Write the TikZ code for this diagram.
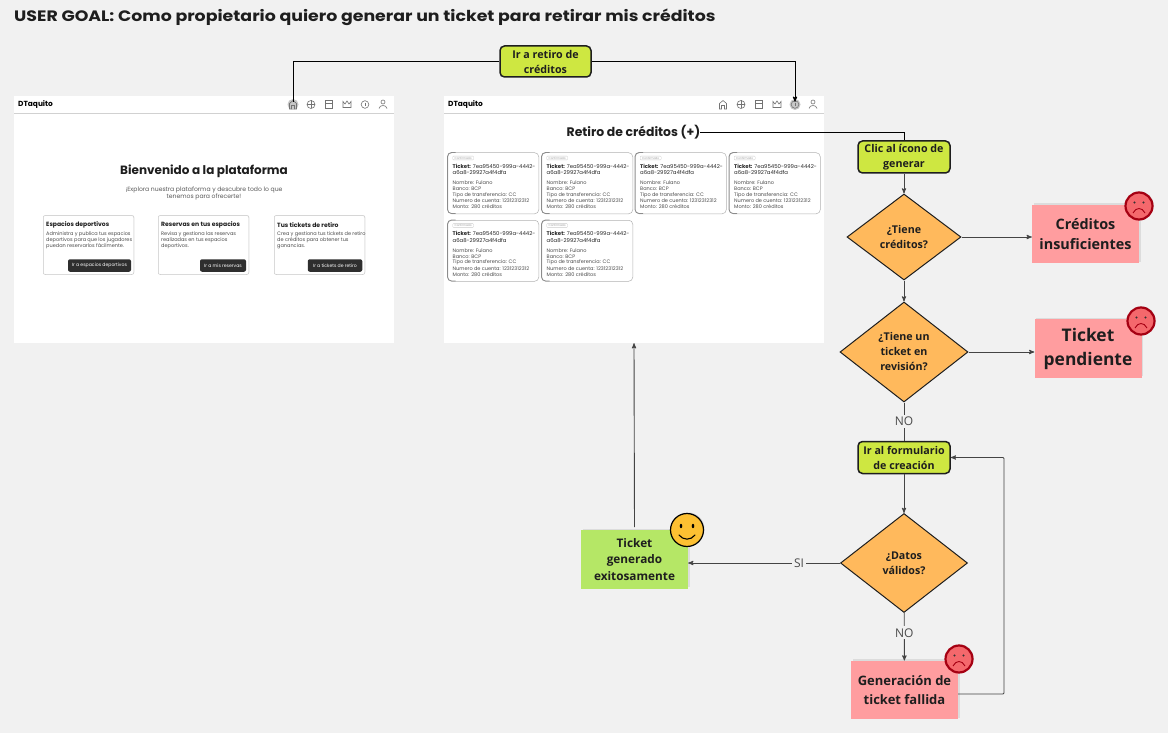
\documentclass[tikz,border=0pt]{standalone}
\usepackage{fontspec}
\usepackage{xcolor}
\usetikzlibrary{arrows}
\usetikzlibrary{shapes.geometric}
\usetikzlibrary{shadows}
\setmainfont{Open Sans}
\newfontfamily\popfont{Poppins}
\newfontfamily\titlefont[FakeStretch=1.15]{Poppins}
\definecolor{canvas}{HTML}{F1F1F1}
\definecolor{lime}{HTML}{CEE741}
\definecolor{orange}{HTML}{FFB95C}
\definecolor{rosa}{HTML}{FF9D9F}
\definecolor{verde}{HTML}{B5E766}
\definecolor{ink}{HTML}{1E1E1E}
\definecolor{wire}{HTML}{444444}
\definecolor{sadring}{HTML}{A50012}
\definecolor{sadfill}{HTML}{F4686C}
\definecolor{smile}{HTML}{FDC032}
\tikzset{
 actionbox/.style={draw=ink, line width=1.5pt, fill=lime, rounded corners=4.5, minimum width=92, minimum height=32, inner sep=0, align=center, text=ink, font=\bfseries\fontsize{10.7}{15}\selectfont},
 decision/.style={diamond, draw=ink, line width=1pt, fill=orange, inner sep=0, align=center, text=ink, font=\bfseries\fontsize{10.7}{15}\selectfont},
 sticky/.style={fill=#1, minimum width=107, minimum height=58.5, inner sep=0, align=center, text=ink, drop shadow={opacity=.18, shadow xshift=1.5, shadow yshift=-1.5}},
 screen/.style={fill=white, minimum width=380, minimum height=247, inner sep=0},
 navdot/.style={circle, fill=black!22, minimum size=11, inner sep=0},
 wired/.style={wire, line width=.9pt},
 tag/.style={fill=canvas, text=ink!80, inner sep=2, font=\fontsize{12}{14}\selectfont},
 sadface/.style={circle, draw=sadring, line width=2.2pt, fill=sadfill, minimum size=27, inner sep=0, drop shadow={opacity=.35, shadow xshift=1, shadow yshift=-1}},
 ticketcard/.style={draw=black!30, line width=.5pt, fill=white, rounded corners=4, minimum width=91, minimum height=61, inner sep=0},
 homecard/.style={draw=black!22, line width=.5pt, fill=white, rounded corners=2, minimum width=90.5, minimum height=59, inner sep=0, drop shadow={opacity=.12, shadow xshift=.5, shadow yshift=-.5}},
 darkbtn/.style={fill=black!82, rounded corners=2, text=white, inner sep=0, minimum height=12.5, font=\popfont\fontsize{4.6}{5}\selectfont},
 tiny/.style={anchor=west, inner sep=0, text=black!70, font=\popfont\fontsize{5}{6}\selectfont}
}
\begin{document}
\begin{tikzpicture}[x=1pt, y=-1pt]
\fill[canvas] (0,0) rectangle (1168,733);
\useasboundingbox (0,0) rectangle (1168,733);
\node[anchor=west, inner sep=0, text=ink, font=\titlefont\bfseries\fontsize{15.1}{16}\selectfont] (goal) at (14,17.5) {USER GOAL: Como propietario quiero generar un ticket para retirar mis créditos};

% pantallas
\node[screen] (inicio) at (204,219.5) {};
\node[screen] (retiro) at (634,219.5) {};
\foreach \x in {14, 444} {
 \draw[black!18, line width=1.2pt] (\x,113.5) --++(380,0);
 \node[anchor=west, inner sep=0, font=\popfont\bfseries\fontsize{7.4}{8}\selectfont] at (\x+4,104.5) {DTaquito};
}
\node[navdot] (iconhome) at (293,104.5) {};
\node[navdot] (iconcred) at (795,104.5) {};
\foreach \s in {0, 430} {
 \begin{scope}[shift={(\s,0)}, black!55, line width=.6pt]
 \draw (289.5,109) -- (289.5,103.5) -- (293,100.5) -- (296.5,103.5) -- (296.5,109) -- (294.5,109) -- (294.5,105.5) -- (291.5,105.5) -- (291.5,109) -- cycle;
 \draw (311,104.5) circle (4);
 \draw (311,100.5) -- (311,108.5) (307,104.5) -- (315,104.5);
 \draw (325.5,100.5) rectangle (332.5,108.5);
 \draw (325.5,103) -- (332.5,103);
 \draw (343,101.5) -- (345,104) -- (347,101) -- (349,104) -- (351,101.5) -- (351,107.5) -- (343,107.5) -- cycle;
 \draw (365,104.5) circle (3.8);
 \draw (365,102.8) -- (365,106.2);
 \draw (383,102) circle (2);
 \draw (379,108.5) .. controls (379.5,104.5) and (386.5,104.5) .. (387,108.5);
 \end{scope}
}

% inicio
\node[font=\popfont\bfseries\fontsize{12}{14}\selectfont, text=ink] (bienv) at (204,171.5) {Bienvenido a la plataforma};
\node[align=center, text=black!65, font=\popfont\fontsize{6.1}{7.8}\selectfont] (explora) at (204,193.5) {¡Explora nuestra plataforma y descubre todo lo que\\tenemos para ofrecerte!};
\foreach \n/\x/\ti/\la/\lb/\lc/\bx/\bw/\bt in {
 a/88.5/Espacios deportivos/Administra y publica tus espacios/deportivos para que los jugadores/puedan reservarlos fácilmente./99.5/63/Ir a espacios deportivos,
 b/203.5/Reservas en tus espacios/Revisa y gestiona las reservas/realizadas en tus espacios/deportivos./223/46/Ir a mis reservas,
 c/319.5/Tus tickets de retiro/Crea y gestiona tus tickets de retiro/de créditos para obtener tus/ganancias./335/54.5/Ir a tickets de retiro} {
 \node[homecard] (home\n) at (\x,245) {};
 \node[tiny, text=ink, font=\popfont\bfseries\fontsize{6.1}{7}\selectfont] at (\x-42.5,225) {\ti};
 \node[tiny] at (\x-42.5,234) {\la};
 \node[tiny] at (\x-42.5,240) {\lb};
 \node[tiny] at (\x-42.5,246) {\lc};
 \node[darkbtn, minimum width=\bw] (btn\n) at (\bx,265.5) {\bt};
}

% retiro de creditos
\node[text=ink, inner sep=0, font=\popfont\bfseries\fontsize{12.4}{14}\selectfont] (retirotxt) at (633.5,132) {Retiro de créditos (+)};
\foreach \n/\x/\y in {a/447.5/152.5, b/541.5/152.5, c/635/152.5, d/729/152.5, e/447.5/220, f/541.5/220} {
 \node[ticketcard, anchor=north west] (card\n) at (\x,\y) {};
 \draw[black!45, line width=.8pt, rounded corners=4] (\x+8,\y) -- (\x,\y) -- (\x,\y+61) -- (\x+8,\y+61);
 \node[draw=black!20, line width=.3pt, rounded corners=.8, inner sep=.8, minimum width=21, text=black!40, font=\popfont\fontsize{2.8}{3}\selectfont, anchor=west] at (\x+5,\y+5.5) {Confirmado};
 \node[tiny, text=black!85, font=\popfont\fontsize{5.35}{7}\selectfont] at (\x+5,\y+13.5) {\textbf{Ticket:} 7ea95450-999a-4442-};
 \node[tiny, text=black!85, font=\popfont\fontsize{5.35}{7}\selectfont] at (\x+5,\y+20.5) {a6a8-29927a4f4dfa};
 \node[tiny] at (\x+5,\y+30.5) {Nombre: Fulano};
 \node[tiny] at (\x+5,\y+36.5) {Banco: BCP};
 \node[tiny] at (\x+5,\y+42.5) {Tipo de transferencia: CC};
 \node[tiny] at (\x+5,\y+48.5) {Numero de cuenta: 12312312312};
 \node[tiny] at (\x+5,\y+54.5) {Monto: 280 créditos};
}

% flujo
\node[actionbox, minimum width=91, minimum height=31] (irretiro) at (545.5,61.5) {Ir a retiro de\\créditos};
\node[actionbox] (clic) at (904,157) {Clic al ícono de\\generar};
\node[decision, minimum width=114, minimum height=86] (tienecred) at (904,237) {¿Tiene\\créditos?};
\node[decision, minimum width=128, minimum height=100] (tienetk) at (904,352) {¿Tiene un\\ticket en\\revisión?};
\node[actionbox] (irform) at (904,457.5) {Ir al formulario\\de creación};
\node[decision, minimum width=127, minimum height=99] (datos) at (904,563) {¿Datos\\válidos?};
\node[sticky=rosa, font=\bfseries\fontsize{14.4}{19.5}\selectfont] (insuf) at (1085.5,234) {Créditos\\insuficientes};
\node[sticky=rosa, font=\bfseries\fontsize{17.4}{24}\selectfont] (pend) at (1088,348.5) {Ticket\\pendiente};
\node[sticky=verde, font=\bfseries\fontsize{11.8}{16.4}\selectfont] (exito) at (634.5,559.5) {Ticket\\generado\\exitosamente};
\node[sticky=rosa, font=\bfseries\fontsize{13}{18.4}\selectfont] (fallo) at (904.5,690) {Generación de\\ticket fallida};
\coordinate (vuelta) at (1004,575);

\draw[black, line width=.9pt] (irretiro.west) -| ([yshift=-3]iconhome.north);
\draw[black, line width=.9pt, ->, >=stealth'] (irretiro.east) -| ([yshift=-3]iconcred.north);
\draw[black, line width=.9pt] (retirotxt.east) -| (clic.north);
\draw[wired, ->, >=stealth'] (clic) -- (tienecred);
\draw[wired, ->, >=stealth'] (tienecred) -- (tienetk);
\draw[wired, ->, >=stealth'] (tienecred) -- (insuf.west |- tienecred);
\draw[wired, ->, >=stealth'] (tienetk) -- (pend.west |- tienetk);
\draw[wired] (tienetk) -- node[tag] (notk) {NO} (irform);
\draw[wired, ->, >=stealth'] (irform) -- (datos);
\draw[wired, ->, >=stealth'] (datos) -- node[tag, pos=.27] (sidat) {SI} (exito.east |- datos);
\draw[wired, ->, >=stealth'] (datos) -- node[tag, pos=.42] (nodat) {NO} (fallo);
\draw[wired, ->, >=stealth', rounded corners=1] (fallo.east |- 0,694) -- (vuelta |- 0,694) -- (vuelta |- irform) -- (irform.east);
\draw[wired, ->, >=stealth', shorten <=3] (exito.north) -- (retiro.south);

% caras
\foreach \n/\x/\y in {a/1139/206, b/1141/321, c/959/659} {
 \node[sadface] (sad\n) at (\x,\y) {};
 \fill[black!80] (\x-4.5,\y-3.5) circle (1.1) (\x+4.5,\y-3.5) circle (1.1);
 \draw[sadring, line width=.9pt] (\x-6,\y+7) .. controls (\x-3,\y+1) and (\x+3,\y+1) .. (\x+6,\y+7);
}
\node[circle, draw=black, line width=1.2pt, fill=smile, minimum size=33, inner sep=0, drop shadow={opacity=.3, shadow xshift=1, shadow yshift=-1}] (feliz) at (687,530) {};
\fill[black] (681,526) ellipse (1.3 and 2.2) (693,526) ellipse (1.3 and 2.2);
\draw[black, line width=1.1pt, line cap=round] (679,535) .. controls (683,540.5) and (691,540.5) .. (695,535);
\end{tikzpicture}
\end{document}
